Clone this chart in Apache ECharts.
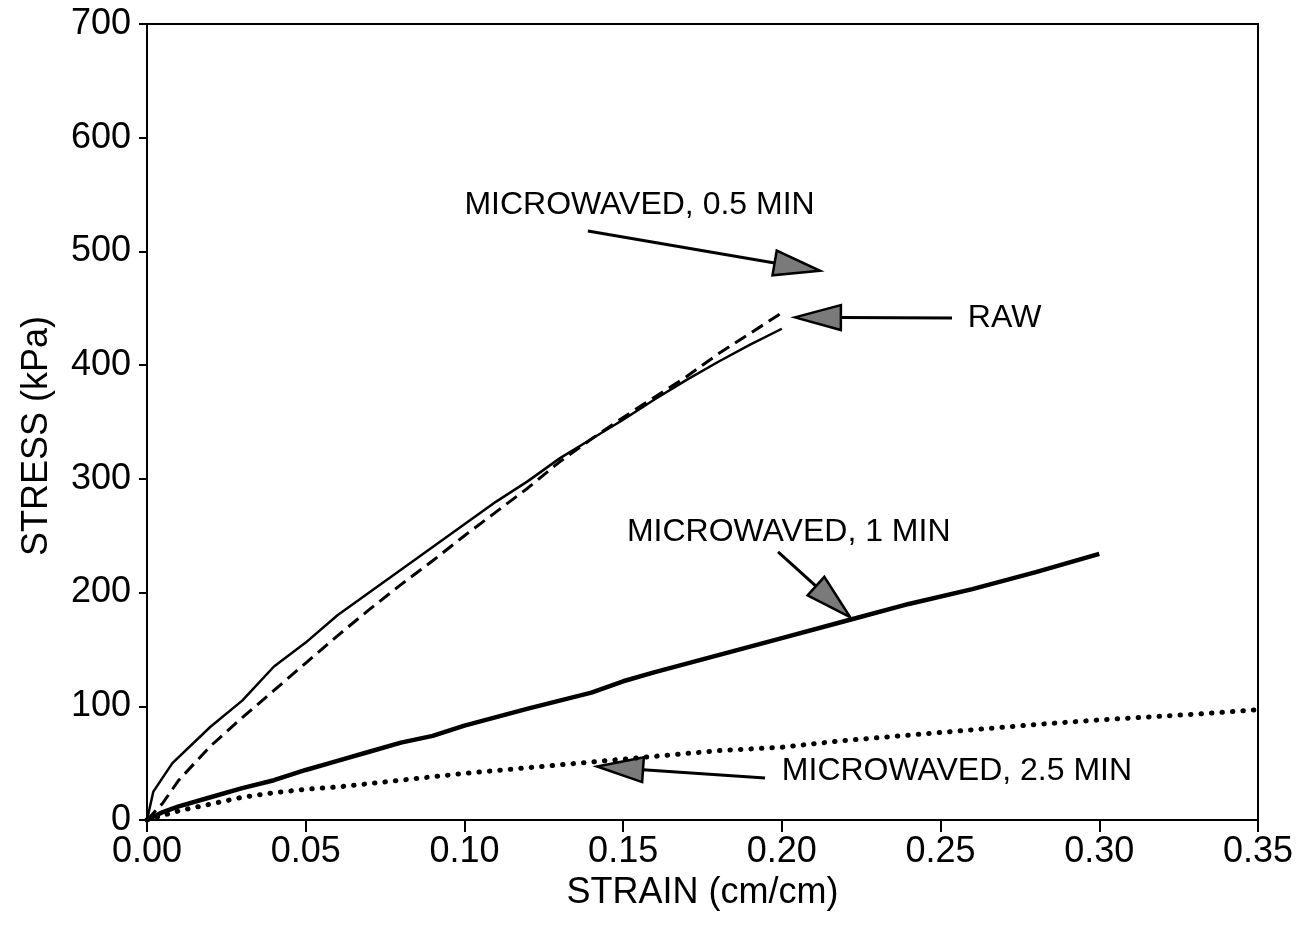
<!DOCTYPE html>
<html>
<head>
<meta charset="utf-8">
<script src="https://cdn.jsdelivr.net/npm/echarts@6/dist/echarts.min.js"></script>
<style>
  html, body { margin: 0; padding: 0; background: #fff; }
  #chart { width: 1305px; height: 926px; }
</style>
</head>
<body>
<div id="chart"></div>
<script>
// strain (cm/cm), stress (kPa) pairs
const rawData = [
  [0, 0], [0.002, 25], [0.008, 50], [0.02, 82], [0.03, 105], [0.04, 135],
  [0.05, 156], [0.06, 180], [0.07, 200], [0.08, 220], [0.09, 240], [0.10, 260],
  [0.11, 280], [0.12, 298], [0.13, 318], [0.14, 335], [0.15, 352], [0.16, 370],
  [0.17, 387], [0.18, 403], [0.19, 418], [0.20, 432]
];
const mw05Data = [
  [0, 0], [0.005, 15], [0.01, 35], [0.02, 65], [0.03, 90], [0.04, 114],
  [0.05, 138], [0.06, 162], [0.07, 185], [0.08, 207], [0.09, 228], [0.10, 250],
  [0.11, 271], [0.12, 292], [0.13, 315], [0.14, 335], [0.15, 354], [0.16, 372],
  [0.17, 390], [0.18, 410], [0.19, 428], [0.20, 446]
];
const mw1Data = [
  [0, 0], [0.005, 7], [0.01, 12], [0.02, 20], [0.03, 28], [0.04, 35],
  [0.05, 44], [0.06, 52], [0.07, 60], [0.08, 68], [0.09, 74], [0.10, 83],
  [0.12, 98], [0.14, 112], [0.15, 122], [0.16, 130], [0.18, 145], [0.20, 160],
  [0.22, 175], [0.24, 190], [0.26, 203], [0.28, 218], [0.30, 234]
];
const mw25Data = [
  [0, 0], [0.01, 8], [0.02, 14], [0.03, 20], [0.04, 24], [0.05, 27],
  [0.06, 29], [0.08, 35], [0.10, 41], [0.12, 46], [0.14, 51], [0.16, 56],
  [0.18, 61], [0.20, 64], [0.22, 70], [0.25, 77], [0.28, 84], [0.30, 88],
  [0.33, 93], [0.35, 97]
];

// annotations: label text, label anchor (left, middle), arrow start, arrow tip
const noteText = ['MICROWAVED, 0.5 MIN', 'RAW', 'MICROWAVED, 1 MIN', 'MICROWAVED, 2.5 MIN'];
const noteAt = [[0.1, 541], [0.2586, 441.5], [0.1512, 253], [0.2, 43]];
const arrowFrom = [[0.1389, 518], [0.2536, 441.5], [0.1988, 235.7], [0.1947, 37]];
const arrowTo = [[0.212, 483], [0.2041, 442], [0.2215, 178.5], [0.1418, 47]];

const font = 'Liberation Sans, Arial, Helvetica, sans-serif';

const chart = echarts.init(document.getElementById('chart'));

const option = {
  backgroundColor: '#fff',
  animation: false,
  grid: {
    left: 147, right: 47, top: 24, bottom: 106,
    show: true, borderColor: '#000', borderWidth: 2
  },
  xAxis: {
    type: 'value',
    min: 0, max: 0.35, interval: 0.05,
    name: 'STRAIN (cm/cm)',
    nameLocation: 'middle',
    nameGap: 45,
    nameTextStyle: { color: '#000', fontSize: 36, fontFamily: font },
    axisLine: { lineStyle: { color: '#000', width: 2 } },
    axisTick: { show: true, length: 12, lineStyle: { color: '#000', width: 2 } },
    axisLabel: {
      color: '#000', fontSize: 36, fontFamily: font, margin: 14,
      formatter: v => v.toFixed(2)
    },
    splitLine: { show: false }
  },
  yAxis: {
    type: 'value',
    min: 0, max: 700, interval: 100,
    name: 'STRESS (kPa)',
    nameLocation: 'middle',
    nameGap: 92,
    nameTextStyle: { color: '#000', fontSize: 36, fontFamily: font, padding: [0, 28, 0, 0] },
    axisLine: { show: true, lineStyle: { color: '#000', width: 2 } },
    axisTick: { show: true, length: 8, lineStyle: { color: '#000', width: 2 } },
    axisLabel: { color: '#000', fontSize: 36, fontFamily: font, margin: 16 },
    splitLine: { show: false }
  },
  series: [
    {
      name: 'RAW', type: 'line', data: rawData, symbol: 'none',
      lineStyle: { color: '#000', width: 2.5 }
    },
    {
      name: 'MICROWAVED, 0.5 MIN', type: 'line', data: mw05Data, symbol: 'none',
      lineStyle: { color: '#000', width: 3, type: [13, 7] }
    },
    {
      name: 'MICROWAVED, 1 MIN', type: 'line', data: mw1Data, symbol: 'none',
      lineStyle: { color: '#000', width: 4.5 }
    },
    {
      name: 'MICROWAVED, 2.5 MIN', type: 'line', data: mw25Data, symbol: 'none',
      lineStyle: { color: '#000', width: 5, type: [0.5, 10], cap: 'round' }
    }
  ]
};

chart.setOption(option);

// arrows and labels, placed through the grid's own coordinate system
const toPx = p => chart.convertToPixel({ gridIndex: 0 }, p);
const elements = [];
noteText.forEach((txt, i) => {
  const s = toPx(arrowFrom[i]);
  const t = toPx(arrowTo[i]);
  const dx = t[0] - s[0], dy = t[1] - s[1];
  const len = Math.sqrt(dx * dx + dy * dy);
  const ux = dx / len, uy = dy / len;
  const headLen = 46, headHalf = 12.5;
  const bx = t[0] - ux * headLen, by = t[1] - uy * headLen;
  elements.push({
    type: 'line',
    shape: { x1: s[0], y1: s[1], x2: bx, y2: by },
    style: { stroke: '#000', lineWidth: 3 }
  });
  elements.push({
    type: 'polygon',
    shape: { points: [t, [bx - uy * headHalf, by + ux * headHalf], [bx + uy * headHalf, by - ux * headHalf]] },
    style: { fill: '#7a7a7a', stroke: '#000', lineWidth: 2.5 }
  });
  const a = toPx(noteAt[i]);
  elements.push({
    type: 'text',
    x: a[0], y: a[1],
    style: {
      text: txt, fill: '#000', font: '32px ' + font,
      textAlign: 'left', textVerticalAlign: 'middle'
    }
  });
});
chart.setOption({ graphic: { elements: elements } });
</script>
</body>
</html>
